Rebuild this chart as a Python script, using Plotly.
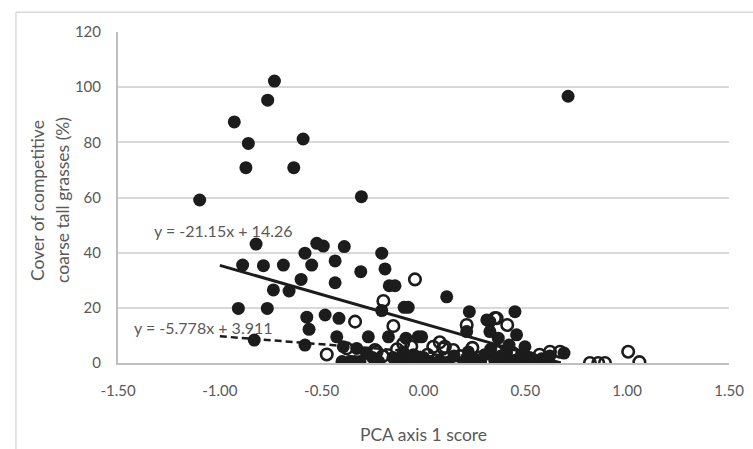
import plotly.graph_objects as go

# Filled points (black dots)
filled_x = [-0.732, -0.765, -0.929, -0.860, -0.591, -0.872, -0.637, -1.099, -0.305, 0.710,
            -0.822, -0.888, -0.786, -0.688, -0.737, -0.660, -0.601, -0.582, -0.549, -0.524,
            -0.492, -0.389, -0.434, -0.205, -0.308, -0.189, -0.434, -0.168, -0.140, 0.114,
            -0.095, -0.075, -0.205,
            -0.909, -0.767, -0.831, -0.573, -0.562, -0.582, -0.483, -0.415, -0.426, -0.271,
            -0.172, -0.394, -0.361, -0.312, -0.338, -0.328, -0.086, -0.026, -0.009,
            0.225, 0.449, 0.212, 0.326, 0.311, 0.326, 0.457, 0.367, 0.498, 0.408, 0.690,
            -0.15, -0.12, -0.10, -0.07, -0.05, -0.02, 0.00, 0.03, 0.08, 0.12, 0.15, 0.20,
            0.22, 0.25, 0.28, 0.30, 0.33, 0.35, 0.38, 0.40, 0.42, 0.45, 0.48, 0.50, 0.52,
            0.55, 0.58, 0.60, 0.62, -0.25, -0.22, -0.28, -0.40, -0.36]
filled_y = [102.2, 95.3, 87.4, 79.6, 81.2, 70.8, 70.8, 59.1, 60.3, 96.7,
            43.1, 35.5, 35.3, 35.5, 26.5, 26.1, 30.3, 39.8, 35.5, 43.4,
            42.4, 42.2, 37.0, 39.8, 33.1, 34.1, 29.1, 28.0, 28.0, 24.0,
            20.2, 20.2, 19.0,
            19.8, 19.8, 8.3, 16.6, 12.2, 6.5, 17.4, 16.2, 9.5, 9.5,
            9.5, 5.9, 0.5, 0.5, 0.5, 5.3, 9.0, 9.5, 9.5,
            18.6, 18.6, 11.4, 15.0, 15.6, 11.4, 10.2, 9.0, 5.9, 4.1, 3.6,
            2.0, 0.5, 4.0, 1.0, 3.0, 0.5, 2.0, 0.5, 1.0, 0.3, 2.5, 0.5,
            4.0, 1.5, 0.5, 3.0, 5.0, 1.0, 2.5, 0.5, 6.5, 1.0, 3.0, 0.5, 2.0,
            0.5, 1.5, 0.3, 2.5, 2.0, 0.5, 3.5, 0.5, 0.5]

# Open points (hollow circles)
open_x = [-0.475, -0.377, -0.238, -0.230, -0.20, -0.13, -0.06, 0.048, 0.105, 0.097,
          0.146, 0.02, 0.06, 0.18, 0.24, 0.27, 0.32, 0.36, 0.41, 0.44, 0.47, 0.53,
          0.57, 0.621, 0.670, 0.817, 0.858, 0.891, 1.005, 1.060,
          -0.042, -0.197, -0.336, -0.148, 0.212, 0.359, 0.411, 0.351, 0.08, -0.10]
open_y = [3.1, 5.3, 4.7, 4.1, 2.5, 5.0, 6.0, 5.9, 5.9, 5.3,
          4.7, 3.0, 1.0, 2.5, 5.5, 2.0, 1.0, 4.0, 1.5, 3.5, 0.5, 1.5,
          3.0, 4.1, 4.1, 0.0, 0.0, 0.0, 4.1, 0.3,
          30.3, 22.5, 15.0, 13.4, 13.8, 16.2, 13.8, 16.3, 7.5, 7.0]

# Trend lines (Excel-style linear fits)
trend_x = [-1.0, 0.674]
solid_slope, solid_intercept = -21.15, 14.26
dash_slope, dash_intercept = -5.778, 3.911
solid_label = "y = -21.15x + 14.26"
dash_label = "y = -5.778x + 3.911"

x_ticks = [-1.5, -1.0, -0.5, 0.0, 0.5, 1.0, 1.5]
x_ticktext = ["-1.50", "-1.00", "-0.50", "0.00", "0.50", "1.00", "1.50"]
y_ticks = [0, 20, 40, 60, 80, 100, 120]
y_title_lines = ["Cover of competitive", "coarse tall grasses (%)"]
x_title = "PCA axis 1 score"

FONT = "Lato, 'Open Sans', sans-serif"
GREY = "#595959"
INK = "#1c1c1c"

fig = go.Figure()
fig.add_trace(go.Scatter(x=open_x, y=open_y, mode="markers",
                         marker=dict(symbol="circle-open", size=11.5, color=INK,
                                     line=dict(width=2.6, color=INK))))
fig.add_trace(go.Scatter(x=filled_x, y=filled_y, mode="markers",
                         marker=dict(symbol="circle", size=13, color=INK,
                                     line=dict(width=0))))
fig.add_trace(go.Scatter(x=trend_x, y=[solid_slope * v + solid_intercept for v in trend_x],
                         mode="lines", line=dict(color=INK, width=3)))
fig.add_trace(go.Scatter(x=trend_x, y=[dash_slope * v + dash_intercept for v in trend_x],
                         mode="lines", line=dict(color=INK, width=2.5, dash="7px,4px")))

fig.add_annotation(x=-0.984, y=47.9, text=solid_label, showarrow=False,
                   font=dict(family=FONT, size=16, color=GREY))
fig.add_annotation(x=-1.082, y=12.7, text=dash_label, showarrow=False,
                   font=dict(family=FONT, size=16, color=GREY))

# Y-axis title as two rotated lines (wider line spacing, as in the reference)
for xp, line in zip([-0.131, -0.090], y_title_lines):
    fig.add_annotation(xref="paper", yref="paper", x=xp, y=0.4925, text=line,
                       textangle=-90, showarrow=False, xanchor="center", yanchor="middle",
                       font=dict(family=FONT, size=17.5, color=GREY))

# Chart-area border (top and left visible)
fig.add_shape(type="line", xref="paper", yref="paper", x0=-0.167, x1=1.2, y0=1.060, y1=1.060,
              line=dict(color="#d9d9d9", width=1.5))
fig.add_shape(type="line", xref="paper", yref="paper", x0=-0.167, x1=-0.167, y0=1.060, y1=-0.4,
              line=dict(color="#d9d9d9", width=1.5))

fig.update_layout(
    width=753, height=449,
    margin=dict(l=118, r=24, t=32, b=86),
    paper_bgcolor="white", plot_bgcolor="white",
    showlegend=False,
    font=dict(family=FONT, color=GREY, size=15),
    xaxis=dict(range=[-1.5, 1.5], tickvals=x_ticks, ticktext=x_ticktext, automargin=False,
               showgrid=False, zeroline=False, showline=True, linecolor="#bfbfbf", linewidth=2,
               ticks="", ticklabelstandoff=13, tickfont=dict(size=15, color=GREY),
               title=dict(text=x_title, standoff=31, font=dict(size=17.5, color=GREY))),
    yaxis=dict(range=[0, 120], tickvals=y_ticks, automargin=False,
               showgrid=True, gridcolor="#d9d9d9", gridwidth=2,
               zeroline=False, showline=True, linecolor="#bfbfbf", linewidth=2,
               ticks="", ticklabelstandoff=12, tickfont=dict(size=15, color=GREY)),
)

fig.write_html("out.html")
